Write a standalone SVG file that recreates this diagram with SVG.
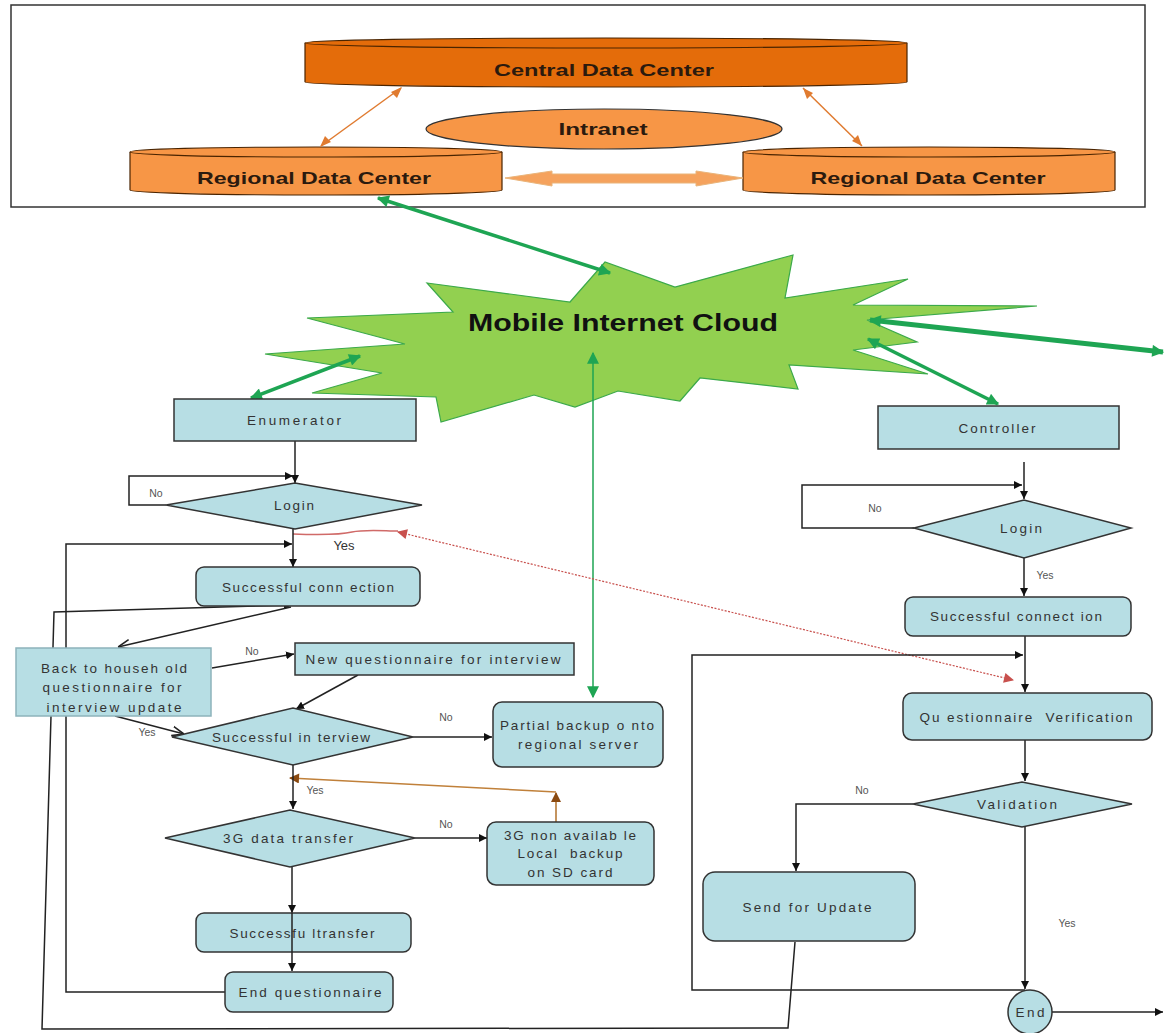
<svg xmlns="http://www.w3.org/2000/svg" width="1166" height="1033" viewBox="0 0 1166 1033">
<style>
.t{font-family:"Liberation Sans",Arial,sans-serif;fill:#333;font-size:13.5px;text-anchor:middle}
.s{font-family:"Liberation Sans",Arial,sans-serif;fill:#555;font-size:10.5px;text-anchor:middle}
.h{font-family:"Liberation Sans",Arial,sans-serif;fill:#2b1a0e;font-size:17px;font-weight:bold;text-anchor:middle}
.box{fill:#B7DEE4;stroke:#333;stroke-width:1.5}
.cyl1{fill:#E46C0A;stroke:#4a2400;stroke-width:1.2}
.cyl2{fill:#F79646;stroke:#4a2400;stroke-width:1.2}
.ln{fill:none;stroke:#222;stroke-width:1.5}
.g{fill:none;stroke:#1EA553;stroke-width:3.5}
</style>
<defs>
<marker id="a" viewBox="0 0 10 10" refX="10" refY="5" markerWidth="8" markerHeight="8" markerUnits="userSpaceOnUse" orient="auto"><path d="M0,0 L10,5 L0,10 z" fill="#111"/></marker>
<marker id="o" viewBox="0 0 10 10" refX="10" refY="5" markerWidth="12" markerHeight="12" markerUnits="userSpaceOnUse" orient="auto"><path d="M0,1 L10,5 L0,9" fill="none" stroke="#222" stroke-width="1.3"/></marker>
<marker id="gm" viewBox="0 0 10 10" refX="9" refY="5" markerWidth="14" markerHeight="12" markerUnits="userSpaceOnUse" orient="auto-start-reverse"><path d="M0,0 L10,5 L0,10 z" fill="#1EA553"/></marker>
<marker id="rm" viewBox="0 0 10 10" refX="9" refY="5" markerWidth="12" markerHeight="10" markerUnits="userSpaceOnUse" orient="auto-start-reverse"><path d="M0,0 L10,5 L0,10 z" fill="#C8504D"/></marker>
<marker id="bm" viewBox="0 0 10 10" refX="9" refY="5" markerWidth="12" markerHeight="10" markerUnits="userSpaceOnUse" orient="auto"><path d="M0,0 L10,5 L0,10 z" fill="#8B4A10"/></marker>
</defs>
<rect width="1166" height="1033" fill="#fff"/>

<g id="frame"><rect x="11" y="5" width="1134" height="202" fill="none" stroke="#333" stroke-width="1.5"/></g>

<g id="central">
<path class="cyl1" d="M305,43 L305,82 A301,5 0 0 0 907,82 L907,43"/>
<ellipse class="cyl1" cx="606" cy="43" rx="301" ry="5"/>
<text class="h" x="604" y="76" textLength="220" lengthAdjust="spacingAndGlyphs">Central Data Center</text>
</g>
<g id="intranet">
<ellipse cx="604" cy="129" rx="178" ry="20" fill="#F79646" stroke="#333" stroke-width="1.2"/>
<text class="h" x="603" y="135" textLength="89" lengthAdjust="spacingAndGlyphs">Intranet</text>
</g>
<g id="regional-left">
<path class="cyl2" d="M130,152 L130,190 A186,5 0 0 0 502,190 L502,152"/>
<ellipse class="cyl2" cx="316" cy="152" rx="186" ry="5"/>
<text class="h" x="314" y="184" textLength="234" lengthAdjust="spacingAndGlyphs">Regional Data Center</text>
</g>
<g id="regional-right">
<path class="cyl2" d="M743,152 L743,190 A186,5 0 0 0 1115,190 L1115,152"/>
<ellipse class="cyl2" cx="929" cy="152" rx="186" ry="5"/>
<text class="h" x="928" y="184" textLength="235" lengthAdjust="spacingAndGlyphs">Regional Data Center</text>
</g>

<g id="cloud">
<polygon points="427,283 570,302 605,262 675,287 793,255 785,298 908,279 853,305 1037,306 867,320 917,342 853,350 928,374 789,365 798,389 700,378 680,401 618,391 575,407 534,395 441,422 436,397 312,393 382,373 265,354 405,344 307,318 453,312" fill="#92D050" stroke="#3BA94A" stroke-width="1.2"/>
<text x="623" y="331" font-family="'Liberation Sans',Arial,sans-serif" font-size="24" font-weight="bold" fill="#111" text-anchor="middle" textLength="310" lengthAdjust="spacingAndGlyphs">Mobile Internet Cloud</text>
</g>

<g id="connectors">
<path d="M321,146 L401,88" stroke="#E07B30" stroke-width="1.5" fill="none"/>
<path d="M397,98 L402,87 L391,92 z M325,136 L320,147 L331,142 z" fill="#E07B30"/>
<path d="M803,88 L862,146" stroke="#E07B30" stroke-width="1.5" fill="none"/>
<path d="M803,88 L807,99 L813,93 z M862,146 L852,141 L858,135 z" fill="#E07B30"/>
<path d="M505,178 L552,171 L552,174 L696,174 L696,171 L743,178 L696,186 L696,183 L552,183 L552,186 z" fill="#F5A25D" stroke="#E9B47A" stroke-width="1"/>
<line class="g" x1="378" y1="198" x2="610" y2="273" marker-start="url(#gm)" marker-end="url(#gm)"/>
<line class="g" x1="251" y1="398" x2="360" y2="356" marker-start="url(#gm)" marker-end="url(#gm)"/>
<line x1="870" y1="320" x2="1163" y2="352" stroke="#1EA553" stroke-width="5" marker-start="url(#gm)" marker-end="url(#gm)"/>
<line class="g" x1="868" y1="339" x2="998" y2="404" marker-start="url(#gm)" marker-end="url(#gm)"/>
<line x1="593" y1="353" x2="593" y2="697" stroke="#1EA553" stroke-width="1.5" marker-start="url(#gm)" marker-end="url(#gm)"/>
<path d="M293,534 C320,535 340,535 352,532 C365,529 385,531 398,531" fill="none" stroke="#D06A68" stroke-width="1.5"/>
<line x1="398" y1="532" x2="1013" y2="680" stroke="#C8504D" stroke-width="1.2" stroke-dasharray="2,1.5" marker-start="url(#rm)" marker-end="url(#rm)"/>
<line x1="556" y1="822" x2="556" y2="793" stroke="#B0702A" stroke-width="1.5" marker-end="url(#bm)"/>
<line x1="556" y1="792" x2="290" y2="778" stroke="#C0803A" stroke-width="1.5" marker-end="url(#bm)"/>
<line class="ln" x1="295" y1="441" x2="295" y2="483" marker-end="url(#a)"/>
<path class="ln" d="M166,505 L129,505 L129,476 L293,476" marker-end="url(#a)"/>
<line class="ln" x1="293" y1="529" x2="293" y2="567" marker-end="url(#a)"/>
<path class="ln" d="M225,992 L66,992 L66,544 L292,544" marker-end="url(#a)"/>
<path class="ln" d="M795,942 L788,1028 L42,1029 L54,612 L292,605" marker-end="url(#a)"/>
<line class="ln" x1="291" y1="607" x2="118" y2="647" marker-end="url(#o)"/>
<line class="ln" x1="212" y1="668" x2="294" y2="654" marker-end="url(#a)"/>
<line class="ln" x1="358" y1="675" x2="296" y2="709" marker-end="url(#a)"/>
<line class="ln" x1="115" y1="716" x2="184" y2="734" marker-end="url(#o)"/>
<line class="ln" x1="413" y1="737" x2="492" y2="737" marker-end="url(#a)"/>
<line class="ln" x1="293" y1="765" x2="293" y2="809" marker-end="url(#a)"/>
<line class="ln" x1="415" y1="838" x2="487" y2="838" marker-end="url(#a)"/>
<line class="ln" x1="292" y1="867" x2="292" y2="913" marker-end="url(#a)"/>
<line class="ln" x1="1024" y1="462" x2="1024" y2="499" marker-end="url(#a)"/>
<path class="ln" d="M914,528 L802,528 L802,485 L1022,485" marker-end="url(#a)"/>
<line class="ln" x1="1024" y1="558" x2="1024" y2="596" marker-end="url(#a)"/>
<line class="ln" x1="1025" y1="636" x2="1025" y2="692" marker-end="url(#a)"/>
<path class="ln" d="M1025,990 L692,990 L692,655 L1023,655" marker-end="url(#a)"/>
<line class="ln" x1="1025" y1="740" x2="1025" y2="781" marker-end="url(#a)"/>
<path class="ln" d="M913,804 L796,804 L796,871" marker-end="url(#a)"/>
<line class="ln" x1="1025" y1="827" x2="1025" y2="989" marker-end="url(#a)"/>
<line class="ln" x1="1052" y1="1012" x2="1163" y2="1012" marker-end="url(#a)"/>
<text class="s" x="156" y="497">No</text>
<text x="344" y="550" font-family="'Liberation Sans',Arial,sans-serif" font-size="13" fill="#333" text-anchor="middle">Yes</text>
<text class="s" x="252" y="655">No</text>
<text class="s" x="147" y="736">Yes</text>
<text class="s" x="446" y="721">No</text>
<text class="s" x="315" y="794">Yes</text>
<text class="s" x="446" y="828">No</text>
<text class="s" x="875" y="512">No</text>
<text class="s" x="1045" y="579">Yes</text>
<text class="s" x="862" y="794">No</text>
<text class="s" x="1067" y="927">Yes</text>
</g>

<g id="enumerator"><rect class="box" x="174" y="399" width="242" height="42"/><text class="t" x="294" y="425" textLength="94">Enumerator</text></g>
<g id="login-left"><polygon class="box" points="166,505 295,483 422,505 295,529"/><text class="t" x="294" y="510" textLength="40">Login</text></g>
<g id="conn-left"><rect class="box" x="196" y="567" width="224" height="39" rx="8"/><text class="t" x="308" y="592" textLength="172">Successful conn ection</text></g>
<g id="back-household"><rect x="16" y="648" width="195" height="68" fill="#B7DEE4" stroke="#8DB3BB" stroke-width="1.5"/>
<text class="t" x="114" y="673" textLength="146">Back to househ old</text>
<text class="t" x="112" y="692" textLength="139">questionnaire for</text>
<text class="t" x="114" y="712" textLength="135">interview update</text></g>
<g id="new-questionnaire"><rect class="box" x="295" y="643" width="279" height="32"/><text class="t" x="433" y="664" textLength="255">New questionnaire for interview</text></g>
<g id="successful-interview"><polygon class="box" points="172,737 293,708 413,737 293,765"/><text class="t" x="291" y="742" textLength="158">Successful in terview</text></g>
<g id="partial-backup"><rect class="box" x="493" y="702" width="170" height="65" rx="9"/><text class="t" x="577" y="730" textLength="154">Partial backup o nto</text><text class="t" x="578" y="749" textLength="120">regional server</text></g>
<g id="data-transfer"><polygon class="box" points="165,838 290,810 415,838 290,867"/><text class="t" x="288" y="843" textLength="130">3G data transfer</text></g>
<g id="local-backup"><rect class="box" x="487" y="822" width="167" height="63" rx="9"/><text class="t" x="570" y="840" textLength="132">3G non availab le</text><text class="t" x="570" y="858" textLength="105" xml:space="preserve">Local  backup</text><text class="t" x="570" y="877" textLength="85">on SD card</text></g>
<g id="successful-transfer"><rect class="box" x="196" y="913" width="215" height="39" rx="8"/><text class="t" x="302" y="938" textLength="145">Successfu ltransfer</text></g>
<line class="ln" x1="292" y1="913" x2="292" y2="971" marker-end="url(#a)"/>
<g id="end-questionnaire"><rect class="box" x="225" y="972" width="168" height="40" rx="8"/><text class="t" x="310" y="997" textLength="143">End questionnaire</text></g>

<g id="controller"><rect class="box" x="878" y="406" width="241" height="43"/><text class="t" x="997" y="433" textLength="77">Controller</text></g>
<g id="login-right"><polygon class="box" points="914,528 1024,500 1131,528 1024,558"/><text class="t" x="1021" y="533" textLength="42">Login</text></g>
<g id="conn-right"><rect class="box" x="905" y="597" width="226" height="39" rx="8"/><text class="t" x="1016" y="621" textLength="172">Successful connect ion</text></g>
<g id="verification"><rect class="box" x="903" y="693" width="249" height="47" rx="9"/><text class="t" x="1026" y="722" textLength="213" xml:space="preserve">Qu estionnaire  Verification</text></g>
<g id="validation"><polygon class="box" points="913,804 1022,782 1132,804 1022,827"/><text class="t" x="1017" y="809" textLength="80">Validation</text></g>
<g id="send-update"><rect class="box" x="703" y="872" width="212" height="69" rx="12"/><text class="t" x="807" y="912" textLength="129">Send for Update</text></g>
<g id="end"><circle class="box" cx="1030" cy="1012" r="22"/><text class="t" x="1030" y="1017" textLength="29">End</text></g>
</svg>
